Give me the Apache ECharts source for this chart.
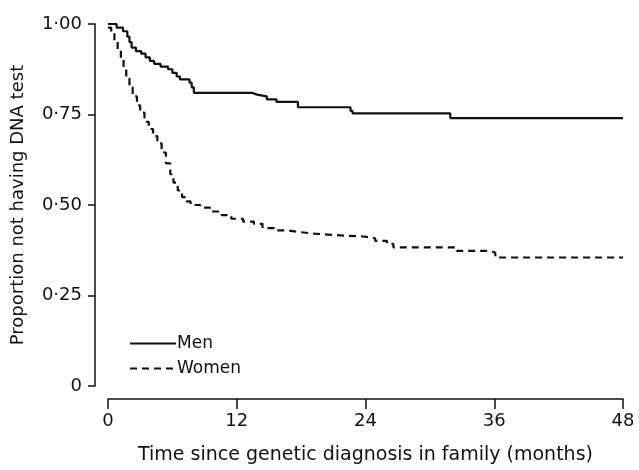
<!DOCTYPE html>
<html>
<head>
<meta charset="utf-8">
<script src="https://cdn.jsdelivr.net/npm/echarts@6/dist/echarts.min.js"></script>
<style>html,body{margin:0;padding:0;background:#fff}#c{width:639px;height:470px}</style>
</head>
<body>
<div id="c"></div>
<script>
// Kaplan-Meier style step data: [month of drop, proportion after drop]
var menTimes   = [0, 0.8, 1.4, 1.8, 2.0, 2.2, 2.6, 3.1, 3.5, 3.9, 4.3, 4.9, 5.6, 6.0, 6.4, 6.7, 7.6, 7.8, 8.0, 13.4, 13.9, 14.8, 15.7, 17.7, 22.6, 22.8, 31.9, 48];
var menValues  = [1.0, 0.99, 0.98, 0.965, 0.95, 0.935, 0.925, 0.918, 0.908, 0.898, 0.89, 0.882, 0.875, 0.865, 0.855, 0.847, 0.838, 0.825, 0.81, 0.805, 0.80, 0.792, 0.785, 0.77, 0.76, 0.753, 0.74, 0.74];
var womenTimes  = [0, 0.3, 0.6, 0.9, 1.2, 1.45, 1.7, 2.0, 2.3, 2.7, 3.0, 3.4, 3.8, 4.2, 4.6, 5.0, 5.4, 5.8, 6.1, 6.5, 6.9, 7.3, 7.7, 8.6, 9.5, 10.6, 11.5, 12.6, 13.6, 14.4, 15.5, 16.7, 17.9, 19.2, 21.7, 23.8, 24.9, 26.0, 26.6, 32.5, 35.7, 36.1, 48];
var womenValues = [0.99, 0.975, 0.955, 0.93, 0.905, 0.88, 0.85, 0.825, 0.80, 0.775, 0.755, 0.73, 0.71, 0.69, 0.67, 0.645, 0.615, 0.585, 0.562, 0.54, 0.522, 0.51, 0.50, 0.493, 0.482, 0.472, 0.462, 0.454, 0.448, 0.436, 0.43, 0.425, 0.421, 0.416, 0.413, 0.408, 0.401, 0.393, 0.383, 0.373, 0.368, 0.355, 0.355];
var xTicks = [0, 12, 24, 36, 48];
var yTicks = [0, 0.25, 0.5, 0.75, 1.0];
var seriesNames = ['Men', 'Women'];
var xTitle = 'Time since genetic diagnosis in family (months)';
var yTitle = 'Proportion not having DNA test';

function pairs(t, v) { return t.map(function (x, i) { return [x, v[i]]; }); }

var FONT = 'DejaVu Sans';
var chart = echarts.init(document.getElementById('c'), null, { renderer: 'canvas' });
chart.setOption({
  animation: false,
  backgroundColor: '#fff',
  textStyle: { fontFamily: FONT, color: '#111' },
  grid: { left: 108, right: 16, top: 24, bottom: 80, containLabel: false },
  legend: {
    orient: 'vertical', left: 124, top: 330,
    itemWidth: 46, itemHeight: 12, itemGap: 8,
    itemStyle: { opacity: 0 },
    textStyle: { fontFamily: FONT, fontSize: 17, color: '#111', padding: [0, 0, 0, -4] },
    data: seriesNames
  },
  xAxis: {
    type: 'value', min: 0, max: 48, interval: 12, offset: 13,
    name: xTitle, nameLocation: 'middle', nameGap: 47,
    nameTextStyle: { fontFamily: FONT, fontSize: 19, color: '#111' },
    axisLine: { show: true, onZero: false, lineStyle: { color: '#111', width: 1.5 } },
    axisTick: { show: true, inside: false, length: 10, lineStyle: { color: '#111', width: 1.5 } },
    axisLabel: { fontFamily: FONT, fontSize: 18, color: '#111', margin: 13,
      customValues: xTicks },
    splitLine: { show: false }
  },
  yAxis: {
    type: 'value', min: 0, max: 1, interval: 0.25, offset: 13,
    name: yTitle, nameLocation: 'middle', nameGap: 68, nameRotate: 90,
    nameTextStyle: { fontFamily: FONT, fontSize: 18, color: '#111' },
    axisLine: { show: true, onZero: false, lineStyle: { color: '#111', width: 1.5 } },
    axisTick: { show: true, length: 7, lineStyle: { color: '#111', width: 1.5 } },
    axisLabel: { fontFamily: FONT, fontSize: 18, color: '#111', margin: 13,
      formatter: function (v) { return v === 0 ? '0' : v.toFixed(2).replace('.', '\u00B7'); } },
    splitLine: { show: false }
  },
  series: [
    { name: seriesNames[0], type: 'line', step: 'end', showSymbol: false, symbol: 'none',
      data: pairs(menTimes, menValues), color: '#111',
      lineStyle: { color: '#111', width: 2.2, type: 'solid' } },
    { name: seriesNames[1], type: 'line', step: 'end', showSymbol: false, symbol: 'none',
      data: pairs(womenTimes, womenValues), color: '#111',
      lineStyle: { color: '#111', width: 2.2, type: [7, 5] } }
  ]
});
</script>
</body>
</html>
